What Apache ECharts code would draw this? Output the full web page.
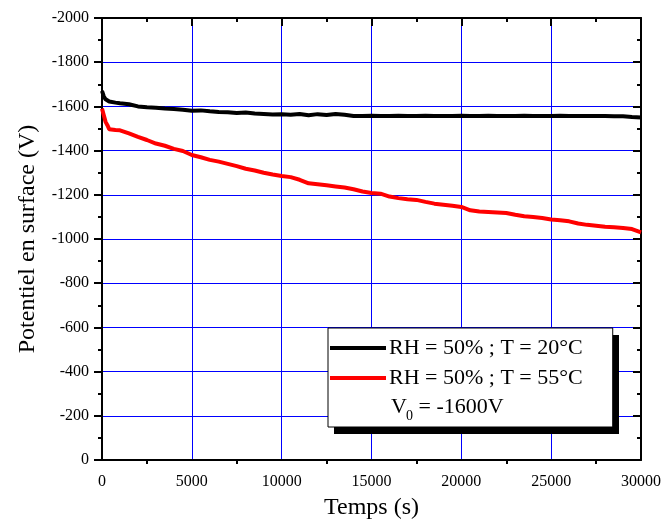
<!DOCTYPE html>
<html>
<head>
<meta charset="utf-8">
<script src="https://cdn.jsdelivr.net/npm/echarts@6/dist/echarts.min.js"></script>
<style>html,body{margin:0;padding:0;background:#fff;}#c{width:664px;height:527px;}</style>
</head>
<body>
<div id="c"></div>
<script>
var times = [0,100,200,300,400,500,750,1000,1500,2000,2500,3000,3500,4000,4500,5000,5500,6000,6500,7000,7500,8000,8500,9000,9500,10000,10500,11000,11500,12000,12500,13000,13500,14000,14500,15000,15500,16000,16500,17000,17500,18000,18500,19000,19500,20000,20500,21000,21500,22000,22500,23000,23500,24000,24500,25000,25500,26000,26500,27000,27500,28000,28500,29000,29500,30000];
var black20C = [-1670,-1645,-1632,-1625,-1622,-1620,-1617,-1614,-1610,-1600,-1596,-1594,-1590,-1588,-1585,-1580,-1582,-1578,-1575,-1574,-1570,-1572,-1568,-1566,-1563,-1564,-1562,-1566,-1560,-1565,-1561,-1566,-1562,-1557,-1557,-1558,-1557,-1557,-1558,-1557,-1557,-1558,-1557,-1557,-1557,-1558,-1557,-1557,-1558,-1557,-1557,-1557,-1558,-1557,-1557,-1557,-1558,-1557,-1557,-1556,-1557,-1556,-1555,-1555,-1552,-1550];
var red55C = [-1590,-1560,-1530,-1515,-1497,-1495,-1493,-1492,-1478,-1462,-1448,-1432,-1422,-1408,-1398,-1380,-1370,-1358,-1350,-1340,-1330,-1318,-1310,-1300,-1292,-1285,-1280,-1268,-1252,-1248,-1243,-1238,-1233,-1225,-1215,-1208,-1205,-1192,-1185,-1180,-1177,-1168,-1160,-1155,-1150,-1145,-1130,-1124,-1122,-1120,-1118,-1110,-1103,-1100,-1095,-1088,-1085,-1080,-1070,-1064,-1060,-1055,-1053,-1050,-1045,-1030];
var seriesNames = ['RH = 50% ; T = 20°C', 'RH = 50% ; T = 55°C'];
var noteMain = 'V';
var noteSub = '0';
var noteRest = ' = -1600V';
var xTitle = 'Temps (s)';
var yTitle = 'Potentiel en surface (V)';

function pairs(t, v) { return t.map(function (x, i) { return [x, v[i]]; }); }
function plain(v) { return String(v); }

var serif = '"Liberation Serif","Times New Roman",serif';
var chart = echarts.init(document.getElementById('c'));
var axisLineStyle = { color: '#000', width: 2 };
chart.setOption({
  animation: false,
  backgroundColor: '#fff',
  grid: { left: 102, right: 21, top: 18, bottom: 67, containLabel: false },
  xAxis: [{
    type: 'value', min: 0, max: 30000, interval: 5000, position: 'bottom',
    name: xTitle, nameLocation: 'middle', nameGap: 36,
    nameTextStyle: { fontFamily: serif, fontSize: 24, color: '#000' },
    axisLine: { show: true, onZero: false, lineStyle: axisLineStyle },
    axisTick: { show: false },
    minorTick: { show: true, splitNumber: 2, length: 4, lineStyle: { color: '#000', width: 2 } },
    axisLabel: { fontFamily: serif, fontSize: 16, color: '#000', margin: 14, formatter: plain },
    splitLine: { show: true, lineStyle: { color: '#0000ff', width: 1 } }
  }, {
    type: 'value', min: 0, max: 30000, interval: 5000, position: 'top',
    axisLine: { show: true, onZero: false, lineStyle: axisLineStyle },
    axisTick: { show: true, inside: true, length: 8, lineStyle: { color: '#000', width: 2 } },
    minorTick: { show: true, splitNumber: 2, length: 4, lineStyle: { color: '#000', width: 2 } },
    axisLabel: { show: false },
    splitLine: { show: false }
  }],
  yAxis: [{
    type: 'value', min: -2000, max: 0, interval: 200, inverse: true, position: 'left',
    name: yTitle, nameLocation: 'middle', nameGap: 62, nameRotate: 90,
    nameTextStyle: { fontFamily: serif, fontSize: 24, color: '#000' },
    axisLine: { show: true, onZero: false, lineStyle: axisLineStyle },
    axisTick: { show: true, inside: false, length: 8, lineStyle: { color: '#000', width: 2 } },
    minorTick: { show: true, splitNumber: 2, length: 4, lineStyle: { color: '#000', width: 2 } },
    axisLabel: { fontFamily: serif, fontSize: 16, color: '#000', margin: 13, formatter: plain },
    splitLine: { show: true, lineStyle: { color: '#0000ff', width: 1 } }
  }, {
    type: 'value', min: -2000, max: 0, interval: 200, inverse: true, position: 'right',
    axisLine: { show: true, onZero: false, lineStyle: axisLineStyle },
    axisTick: { show: true, inside: true, length: 8, lineStyle: { color: '#000', width: 2 } },
    minorTick: { show: true, splitNumber: 2, length: 4, lineStyle: { color: '#000', width: 2 } },
    axisLabel: { show: false },
    splitLine: { show: false }
  }],
  legend: {
    data: seriesNames,
    orient: 'vertical',
    left: 328, top: 328,
    padding: [8, 30, 37, 2],
    itemGap: 6,
    itemWidth: 56, itemHeight: 4,
    icon: 'rect',
    z: 6,
    backgroundColor: '#fff',
    borderColor: '#000', borderWidth: 1,
    textStyle: { fontFamily: serif, fontSize: 22, color: '#000', lineHeight: 24, padding: [0, 0, 0, -2] },
    selectedMode: false
  },
  graphic: [
    { type: 'rect', left: 334, top: 335, z: 5, shape: { width: 285, height: 99 }, style: { fill: '#000' } },
    { type: 'text', left: 391, top: 396, z: 100, style: { text: noteMain, font: '22px ' + serif, fill: '#000' } },
    { type: 'text', left: 406, top: 409, z: 100, style: { text: noteSub, font: '14px ' + serif, fill: '#000' } },
    { type: 'text', left: 413, top: 396, z: 100, style: { text: noteRest, font: '22px ' + serif, fill: '#000' } }
  ],
  series: [{
    name: seriesNames[0], type: 'line', data: pairs(times, black20C),
    showSymbol: false, color: '#000', lineStyle: { color: '#000', width: 4 }
  }, {
    name: seriesNames[1], type: 'line', data: pairs(times, red55C),
    showSymbol: false, color: '#ff0000', lineStyle: { color: '#ff0000', width: 4 }
  }]
});
</script>
</body>
</html>
